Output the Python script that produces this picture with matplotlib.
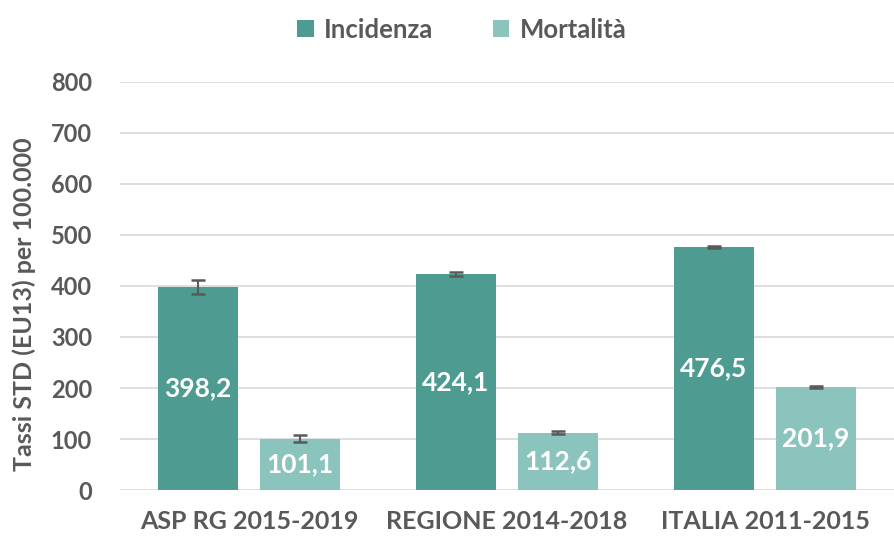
import matplotlib.pyplot as plt
import numpy as np

plt.rcParams['font.family'] = ['Lato', 'DejaVu Sans']

categories = ['ASP RG 2015-2019', 'REGIONE 2014-2018', 'ITALIA 2011-2015']
incidenza = [398.2, 424.1, 476.5]
incidenza_err = [13, 4, 2]
mortalita = [101.1, 112.6, 201.9]
mortalita_err = [7, 3, 1.5]
series_names = ['Incidenza', 'Mortalità']

col_inc = '#4E9C91'
col_mor = '#8AC4BC'
grey = '#595959'

fig = plt.figure(figsize=(8.95, 5.38), dpi=100)
ax = fig.add_axes([0.134, 0.089, 0.865, 0.759])

x = np.arange(len(categories))
w = 0.31
off = 0.198

b1 = ax.bar(x - off, incidenza, w, color=col_inc, label=series_names[0], zorder=2)
b2 = ax.bar(x + off, mortalita, w, color=col_mor, label=series_names[1], zorder=2)
ax.errorbar(x - off, incidenza, yerr=incidenza_err, fmt='none', ecolor=grey,
            elinewidth=1.5, capsize=5, capthick=1.8, zorder=3)
ax.errorbar(x + off, mortalita, yerr=mortalita_err, fmt='none', ecolor=grey,
            elinewidth=1.5, capsize=5, capthick=1.8, zorder=3)

# value labels in the middle of each bar
for bars, vals in [(b1, incidenza), (b2, mortalita)]:
    for b, v in zip(bars, vals):
        ax.text(b.get_x() + b.get_width() / 2, v / 2, f'{v:.1f}'.replace('.', ','),
                ha='center', va='center', color='white', fontsize=19, fontweight='bold', zorder=4)

ax.set_xlim(-0.5, 2.5)
ax.set_ylim(0, 800)
ax.set_yticks(range(0, 801, 100))
ax.set_xticks(x)
ax.set_xticklabels(categories)
ax.tick_params(axis='x', length=0, labelsize=18, labelcolor=grey, pad=14)
ax.tick_params(axis='y', length=0, labelsize=17, labelcolor=grey, pad=20)
for lab in ax.get_xticklabels() + ax.get_yticklabels():
    lab.set_fontweight('bold')
ax.yaxis.grid(True, color='#D9D9D9', linewidth=1.2, zorder=0)
for s in ax.spines.values():
    s.set_visible(False)

ax.set_ylabel('Tassi STD (EU13) per 100.000', fontsize=18, fontweight='bold', color=grey)
ax.yaxis.set_label_coords(-0.108, 0.455)

fig.legend(handles=[b1, b2], loc='upper center', bbox_to_anchor=(0.516, 1.01), ncol=2, frameon=False,
           prop={'size': 18.5, 'weight': 'bold'}, labelcolor=grey, handlelength=0.65, handleheight=0.65,
           columnspacing=2.3, handletextpad=0.4)

fig.savefig('out.png', dpi=100)
